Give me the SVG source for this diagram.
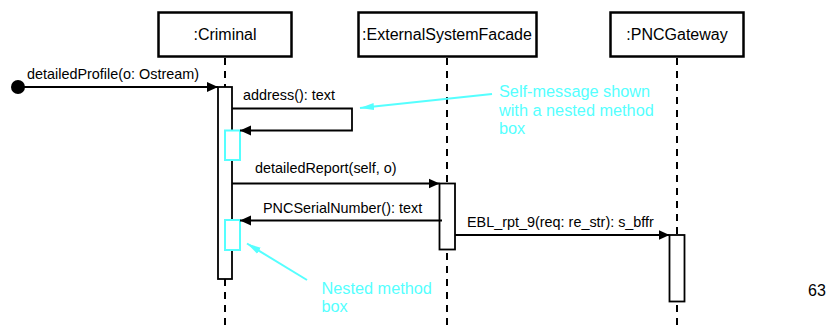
<svg xmlns="http://www.w3.org/2000/svg" width="830" height="326" viewBox="0 0 830 326">
  <style>
    .obj { fill: #fff; stroke: #000; stroke-width: 2.5; }
    .objtxt { font-family: "Liberation Sans", Arial, sans-serif; font-size: 16px; fill: #000; text-anchor: middle; }
    .life { stroke: #000; stroke-width: 2; stroke-dasharray: 7 6; fill: none; }
    .act { fill: #fff; stroke: #000; stroke-width: 1.8; }
    .nest { fill: #fff; stroke: #5ff; stroke-width: 2; }
    .msg { stroke: #000; stroke-width: 1.8; fill: none; }
    .lbl { font-family: "Liberation Sans", Arial, sans-serif; font-size: 14.4px; fill: #000; }
    .note { font-family: "Liberation Sans", Arial, sans-serif; font-size: 16.3px; fill: #5ff; }
    .pointer { stroke: #5ff; stroke-width: 2; fill: none; }
  </style>
  <defs>
    <marker id="head" markerUnits="userSpaceOnUse" markerWidth="12" markerHeight="12" viewBox="0 0 12 12" refX="11" refY="6" orient="auto">
      <path d="M0,1 L11,6 L0,11 Z" fill="#000"/>
    </marker>
    <marker id="cyanHead" markerUnits="userSpaceOnUse" markerWidth="15" markerHeight="10" viewBox="0 0 15 10" refX="14" refY="5" orient="auto">
      <path d="M0,1.5 L14,5 L0,8.5 Z" fill="#5ff"/>
    </marker>
  </defs>

  <rect width="830" height="326" fill="#fff"/>

  <!-- lifelines -->
  <g id="lifelines">
    <line class="life" x1="225" y1="58" x2="225" y2="326"/>
    <line class="life" x1="447" y1="58" x2="447" y2="326"/>
    <line class="life" x1="677" y1="58" x2="677" y2="326"/>
  </g>

  <g id="criminal">
    <rect class="obj" x="158.5" y="12.5" width="133" height="44"/>
    <text class="objtxt" x="225" y="40">:Criminal</text>
    <rect class="act" x="218" y="87" width="14" height="192"/>
  </g>

  <g id="external-system-facade">
    <rect class="obj" x="358.5" y="12.5" width="178" height="44"/>
    <text class="objtxt" x="447" y="40">:ExternalSystemFacade</text>
    <rect class="act" x="439.5" y="183.5" width="15.5" height="66"/>
  </g>

  <g id="pnc-gateway">
    <rect class="obj" x="610.5" y="12.5" width="133" height="44"/>
    <text class="objtxt" x="677" y="40">:PNCGateway</text>
    <rect class="act" x="669.5" y="235" width="15" height="66.5"/>
  </g>

  <g id="nested-boxes">
    <rect class="nest" x="225" y="130.5" width="15" height="29.5"/>
    <rect class="nest" x="225" y="220" width="15" height="30"/>
  </g>

  <!-- messages -->
  <g id="connectors">
    <circle cx="18" cy="87" r="7" fill="#000"/>
    <line class="msg" x1="18" y1="87" x2="218" y2="87" marker-end="url(#head)"/>
    <polyline class="msg" points="232,108.5 352,108.5 352,130.5 240,130.5" marker-end="url(#head)"/>
    <line class="msg" x1="232" y1="183.5" x2="439.5" y2="183.5" marker-end="url(#head)"/>
    <line class="msg" x1="442" y1="220.5" x2="240" y2="220.5" marker-end="url(#head)"/>
    <line class="msg" x1="455" y1="235" x2="669.5" y2="235" marker-end="url(#head)"/>
    <line class="pointer" x1="492" y1="94" x2="360" y2="108" marker-end="url(#cyanHead)"/>
    <line class="pointer" x1="307" y1="280" x2="247" y2="243.5" marker-end="url(#cyanHead)"/>
  </g>

  <g id="labels">
    <text class="lbl" x="27" y="79">detailedProfile(o: Ostream)</text>
    <text class="lbl" x="243" y="100">address(): text</text>
    <text class="lbl" x="255" y="173">detailedReport(self, o)</text>
    <text class="lbl" x="263" y="213">PNCSerialNumber(): text</text>
    <text class="lbl" x="467" y="227">EBL_rpt_9(req: re_str): s_bffr</text>
  </g>

  <g id="notes">
    <text class="note" x="499" y="97">Self-message shown</text>
    <text class="note" x="499" y="116">with a nested method</text>
    <text class="note" x="499" y="134">box</text>
    <text class="note" x="321.5" y="294">Nested method</text>
    <text class="note" x="321.5" y="312">box</text>
  </g>

  <text x="808" y="296" font-family="Liberation Sans, Arial, sans-serif" font-size="16px" fill="#000">63</text>
</svg>
